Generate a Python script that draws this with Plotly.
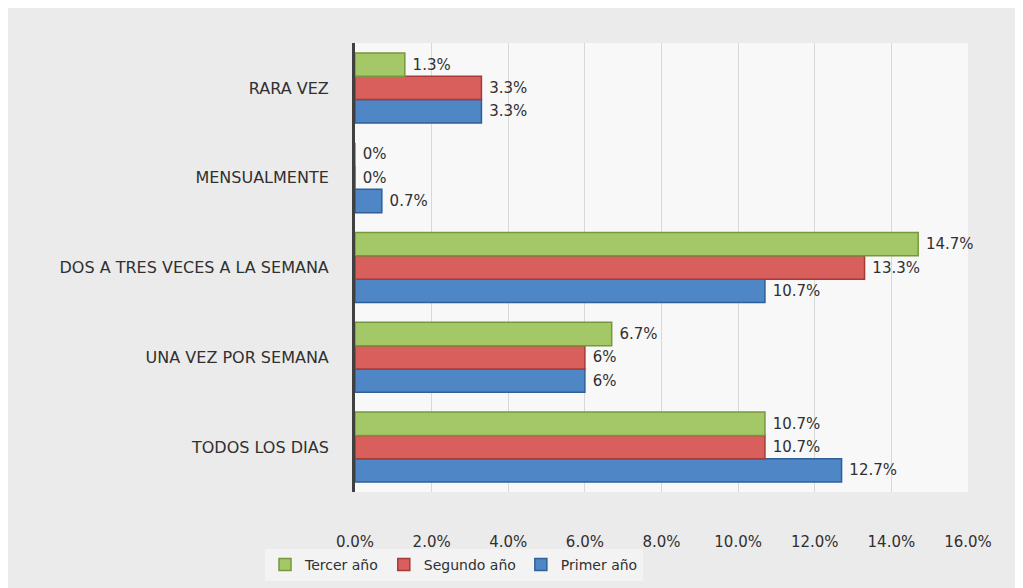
import plotly.graph_objects as go

categories = ["TODOS LOS DIAS", "UNA VEZ POR SEMANA", "DOS A TRES VECES A LA SEMANA",
              "MENSUALMENTE", "RARA VEZ"]
primer = [12.7, 6.0, 10.7, 0.7, 3.3]
segundo = [10.7, 6.0, 13.3, 0.0, 3.3]
tercer = [10.7, 6.7, 14.7, 0.0, 1.3]
tick_vals = [0, 2, 4, 6, 8, 10, 12, 14, 16]
tick_text = ["0.0%", "2.0%", "4.0%", "6.0%", "8.0%", "10.0%", "12.0%", "14.0%", "16.0%"]

series = [
    ("Primer año", primer, "#4f86c6", "#2f5f98"),
    ("Segundo año", segundo, "#d95f5c", "#a63a37"),
    ("Tercer año", tercer, "#a4c868", "#76983c"),
]

FONT = "'DejaVu Sans', sans-serif"
TXT = "#303030"
FS = 16

fig = go.Figure()
for name, vals, col, edge in series:
    fig.add_trace(go.Bar(
        y=categories, x=vals, name=name, orientation="h",
        marker=dict(color=col, line=dict(color=edge, width=1.5)),
        text=[f" {v:g}%" for v in vals], textposition="outside",
        textfont=dict(size=15, color=TXT, family=FONT),
        cliponaxis=False,
    ))

W, H = 1015, 580
L, R, T, B = 347, 55, 35, 96

fig.update_layout(
    width=W, height=H,
    margin=dict(l=L, r=R, t=T, b=B, autoexpand=False),
    paper_bgcolor="#ebebeb",
    plot_bgcolor="#f8f8f8",
    barmode="group", bargap=0.22, bargroupgap=0.0,
    font=dict(family=FONT, size=FS, color=TXT),
    showlegend=True,
    legend=dict(orientation="h", traceorder="reversed",
                x=(446 - L) / (W - L - R), xanchor="center",
                y=-(557 - (H - B)) / (H - T - B), yanchor="middle", bgcolor="#f3f3f3",
                font=dict(size=14, color=TXT, family=FONT),
                itemwidth=30),
    xaxis=dict(range=[0, 16], tickvals=tick_vals, ticktext=tick_text, automargin=False,
               showgrid=True, gridcolor="#d8d8d8", gridwidth=1, zeroline=False,
               showline=False, ticklabelstandoff=39,
               tickfont=dict(size=15, color=TXT, family=FONT)),
    yaxis=dict(categoryorder="array", categoryarray=categories, automargin=False,
               range=[-0.5, 4.5], showline=True, linecolor="#404040", linewidth=3,
               showgrid=False, ticks="", ticklabelstandoff=20,
               tickfont=dict(size=FS, color=TXT, family=FONT)),
)

fig.write_html("out.html")
